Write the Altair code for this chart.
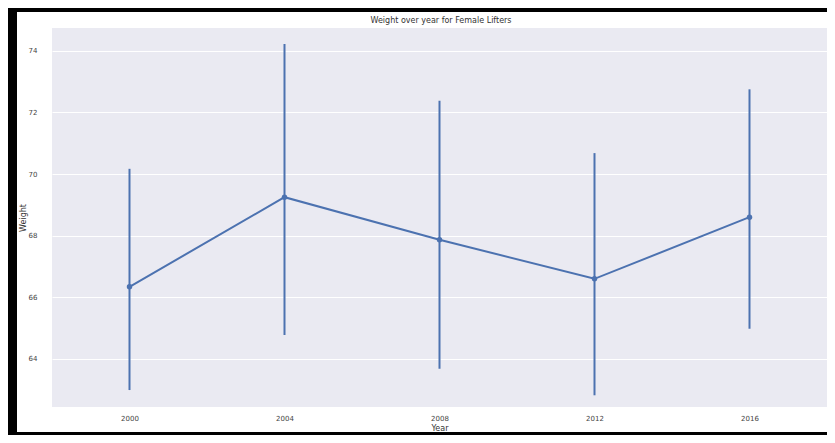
import altair as alt
import pandas as pd

years = ["2000", "2004", "2008", "2012", "2016"]
mean_weight = [66.34, 69.25, 67.87, 66.60, 68.60]
ci_low = [62.99, 64.78, 63.68, 62.82, 64.98]
ci_high = [70.17, 74.22, 72.38, 70.68, 72.75]
title_text = "Weight over year for Female Lifters"

df = pd.DataFrame({"Year": years, "Weight": mean_weight, "lo": ci_low, "hi": ci_high})

BLUE = "#4c72b0"
W, H = 775, 379

x = alt.X("Year:O", title="Year",
          scale=alt.Scale(type="point", padding=0.5),
          axis=alt.Axis(labelAngle=0, ticks=False, domain=False, grid=False,
                        labelPadding=7, titlePadding=3))
yscale = alt.Scale(domain=[62.44, 74.74], nice=False, zero=False)

base = alt.Chart(df)

err = base.mark_rule(color=BLUE, strokeWidth=2).encode(
    x=x,
    y=alt.Y("lo:Q", scale=yscale, title="Weight",
            axis=alt.Axis(values=[64, 66, 68, 70, 72, 74], ticks=False, domain=False,
                          grid=True, gridColor="white", gridWidth=1, gridOpacity=1,
                          labelPadding=15, titlePadding=1)),
    y2="hi:Q",
)
line = base.mark_line(color=BLUE, strokeWidth=2).encode(x=x, y=alt.Y("Weight:Q", scale=yscale))
pts = base.mark_circle(color=BLUE, size=30, opacity=1).encode(x=x, y=alt.Y("Weight:Q", scale=yscale))

one = alt.Data(values=[{"t": title_text}])
title_mark = alt.Chart(one).mark_text(font="DejaVu Sans", fontSize=8, color="#333333",
                                      baseline="middle", align="center").encode(
    x=alt.value(389), y=alt.value(-7), text="t:N")
frame_top = alt.Chart(one).mark_rect(color="black").encode(
    x=alt.value(-43), x2=alt.value(790), y=alt.value(-22), y2=alt.value(-16))
frame_left = alt.Chart(one).mark_rect(color="black").encode(
    x=alt.value(-45), x2=alt.value(-35), y=alt.value(-22), y2=alt.value(410))
frame_bottom = alt.Chart(one).mark_rect(color="black").encode(
    x=alt.value(-45), x2=alt.value(790), y=alt.value(404), y2=alt.value(410))

chart = alt.layer(err, line, pts, title_mark, frame_top, frame_left, frame_bottom).properties(
    width=W, height=H,
    background="white",
    autosize=alt.AutoSizeParams(type="none"),
    padding={"left": 44, "top": 20, "right": 0, "bottom": 28},
).configure_view(fill="#eaeaf2", stroke=None).configure_axis(
    labelFont="DejaVu Sans", titleFont="DejaVu Sans", labelFontSize=7, titleFontSize=8,
    labelColor="#444444", titleColor="#333333", titleFontWeight="normal",
)

chart.save("out.html", embed_options={"renderer": "svg", "actions": False})
